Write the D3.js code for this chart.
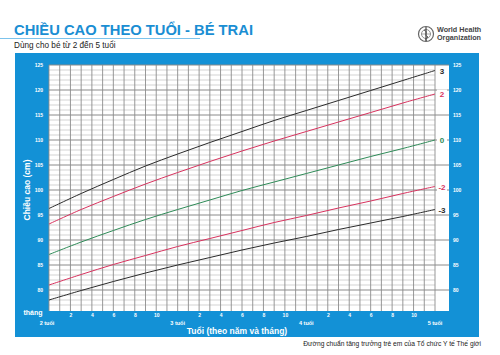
<!DOCTYPE html>
<html><head><meta charset="utf-8">
<script src="https://cdn.jsdelivr.net/npm/d3@7"></script>
<style>body{margin:0;background:#fff}svg{display:block;font-family:"Liberation Sans",Arial,sans-serif}</style>
</head><body><svg id="c" width="500" height="355"></svg>
<script>
const months = [24,27,30,33,36,39,42,45,48,51,54,57,60];
const sdNeg3 = [78.0,79.9,81.7,83.4,85.0,86.5,88.0,89.4,90.7,92.1,93.4,94.7,96.1];
const sdNeg2 = [81.0,83.1,85.1,86.9,88.7,90.3,91.9,93.5,94.9,96.4,97.8,99.3,100.7];
const sd0    = [87.1,89.6,91.9,94.1,96.1,98.0,99.9,101.6,103.3,105.0,106.7,108.3,110.0];
const sdPos2 = [93.2,96.1,98.7,101.2,103.5,105.7,107.8,109.8,111.7,113.6,115.5,117.4,119.2];
const sdPos3 = [96.3,99.3,102.1,104.8,107.2,109.5,111.7,113.9,115.9,117.9,119.9,121.9,123.9];
const seriesNames = ["3","2","0","-2","-3"];
const yTicks = [80,85,90,95,100,105,110,115,120,125];
const monthLabels = [2,4,6,8,10];
const yearLabels = ["2 tuổi","3 tuổi","4 tuổi","5 tuổi"];

const series = [
  {name:"3", values:sdPos3, color:"#2b2b2b"},
  {name:"2", values:sdPos2, color:"#d8325e"},
  {name:"0", values:sd0, color:"#2e8b57"},
  {name:"-2", values:sdNeg2, color:"#d8325e"},
  {name:"-3", values:sdNeg3, color:"#2b2b2b"}
];

const svg = d3.select("#c");
const blue = "#1391d6";
const L=49, R=435, T=65, B=310;
const x = d3.scaleLinear().domain([24,60]).range([L,R]);
const y = d3.scaleLinear().domain([76,125]).range([B,T]);

// header
svg.append("text").attr("x",14).attr("y",35).attr("fill","#1a8ed3").attr("font-weight","bold")
  .attr("font-size",15).attr("textLength",239).attr("lengthAdjust","spacingAndGlyphs")
  .text("CHIỀU CAO THEO TUỔI - BÉ TRAI");
svg.append("line").attr("x1",0).attr("x2",200).attr("y1",38.5).attr("y2",38.5).attr("stroke","#7cc3ec").attr("stroke-width",1);
svg.append("text").attr("x",14).attr("y",48).attr("fill","#222").attr("font-size",8.2)
  .text("Dùng cho bé từ 2 đến 5 tuổi");

// WHO logo
const lg = svg.append("g").attr("transform","translate(426,34)");
lg.append("circle").attr("r",7.5).attr("fill","none").attr("stroke","#666").attr("stroke-width",1.2);
lg.append("circle").attr("r",4.5).attr("fill","none").attr("stroke","#777").attr("stroke-width",0.8);
lg.append("line").attr("x1",0).attr("x2",0).attr("y1",-7).attr("y2",7).attr("stroke","#444").attr("stroke-width",1.2);
lg.append("line").attr("x1",-4.5).attr("x2",4.5).attr("y1",0).attr("y2",0).attr("stroke","#777").attr("stroke-width",0.6);
lg.append("path").attr("d","M-2,-4 C3,-2 -3,1 2,3 C-2,5 1,6 0,7").attr("fill","none").attr("stroke","#444").attr("stroke-width",0.9);
svg.append("text").attr("x",437).attr("y",32).attr("font-size",7.2).attr("font-weight","bold").attr("fill","#444").text("World Health");
svg.append("text").attr("x",437).attr("y",40).attr("font-size",7.2).attr("font-weight","bold").attr("fill","#444").text("Organization");

// blue panel
svg.append("rect").attr("x",15).attr("y",53).attr("width",464).attr("height",284).attr("fill",blue);
svg.append("rect").attr("x",L).attr("y",T).attr("width",449-L).attr("height",B-T+1).attr("fill","#fff");

// grid
const g = svg.append("g");
for (let v=77; v<=125; v++) {
  const major = v%5===0;
  g.append("line").attr("x1",L).attr("x2",major?449:R).attr("y1",y(v)).attr("y2",y(v))
    .attr("stroke",major?"#8a8a8a":"#b5b5b5").attr("stroke-width",major?1:0.6);
}
for (let m=24; m<=60; m++) {
  g.append("line").attr("x1",x(m)).attr("x2",x(m)).attr("y1",T).attr("y2",B+1)
    .attr("stroke","#8c8c8c").attr("stroke-width",0.9);
}

// curves
const line = d3.line().x((d,i)=>x(months[i])).y(d=>y(d)).curve(d3.curveCatmullRom);
series.forEach(s=>{
  svg.append("path").attr("d",line(s.values)).attr("fill","none").attr("stroke",s.color).attr("stroke-width",1);
  const last = s.values[s.values.length-1];
  svg.append("rect").attr("x",437).attr("y",y(last)-4.5).attr("width",10).attr("height",9).attr("fill","#fff");
  svg.append("text").attr("x",442).attr("y",y(last)+3).attr("text-anchor","middle").attr("font-size",8)
    .attr("font-weight","bold").attr("fill",s.color).text(s.name);
});

// y labels
const yAxisL = d3.axisLeft(y).tickValues(yTicks).tickSize(0).tickPadding(6);
const ax1 = svg.append("g").attr("transform",`translate(${L},0)`).call(yAxisL);
const ax2 = svg.append("g").attr("transform",`translate(449,0)`).call(d3.axisRight(y).tickValues(yTicks).tickSize(0).tickPadding(4));
[ax1,ax2].forEach(a=>{a.select(".domain").remove();a.selectAll("text").attr("fill","#fff").attr("font-size",5).attr("font-weight","bold");});

// x labels
const xTickVals = [];
for (let yr=0; yr<3; yr++) monthLabels.forEach(mm=>xTickVals.push(24+yr*12+mm));
const xAxis = d3.axisBottom(x).tickValues(xTickVals).tickSize(0).tickPadding(2).tickFormat(d=>String((d-24)%12));
const ax3 = svg.append("g").attr("transform",`translate(0,${B+1})`).call(xAxis);
ax3.select(".domain").remove();
ax3.selectAll("text").attr("fill","#fff").attr("font-size",5).attr("font-weight","bold");

yearLabels.forEach((t,i)=>{
  svg.append("text").attr("x",i===0?47:x(36+(i-1)*12)).attr("y",325).attr("text-anchor","middle")
    .attr("fill","#fff").attr("font-size",5.5).attr("font-weight","bold").text(t);
});
svg.append("text").attr("x",33).attr("y",315).attr("text-anchor","middle").attr("fill","#fff")
  .attr("font-size",7).attr("font-weight","bold").text("tháng");
svg.append("text").attr("x",237).attr("y",334).attr("text-anchor","middle").attr("fill","#fff")
  .attr("font-size",8.5).attr("font-weight","bold").text("Tuổi (theo năm và tháng)");
svg.append("text").attr("transform","translate(30,190) rotate(-90)").attr("text-anchor","middle").attr("fill","#fff")
  .attr("font-size",8.5).attr("font-weight","bold").text("Chiều cao (cm)");

// footer
svg.append("text").attr("x",481).attr("y",346).attr("text-anchor","end").attr("fill","#222")
  .attr("font-size",6.7).text("Đường chuẩn tăng trưởng trẻ em của Tổ chức Y tế Thế giới");
</script></body></html>
